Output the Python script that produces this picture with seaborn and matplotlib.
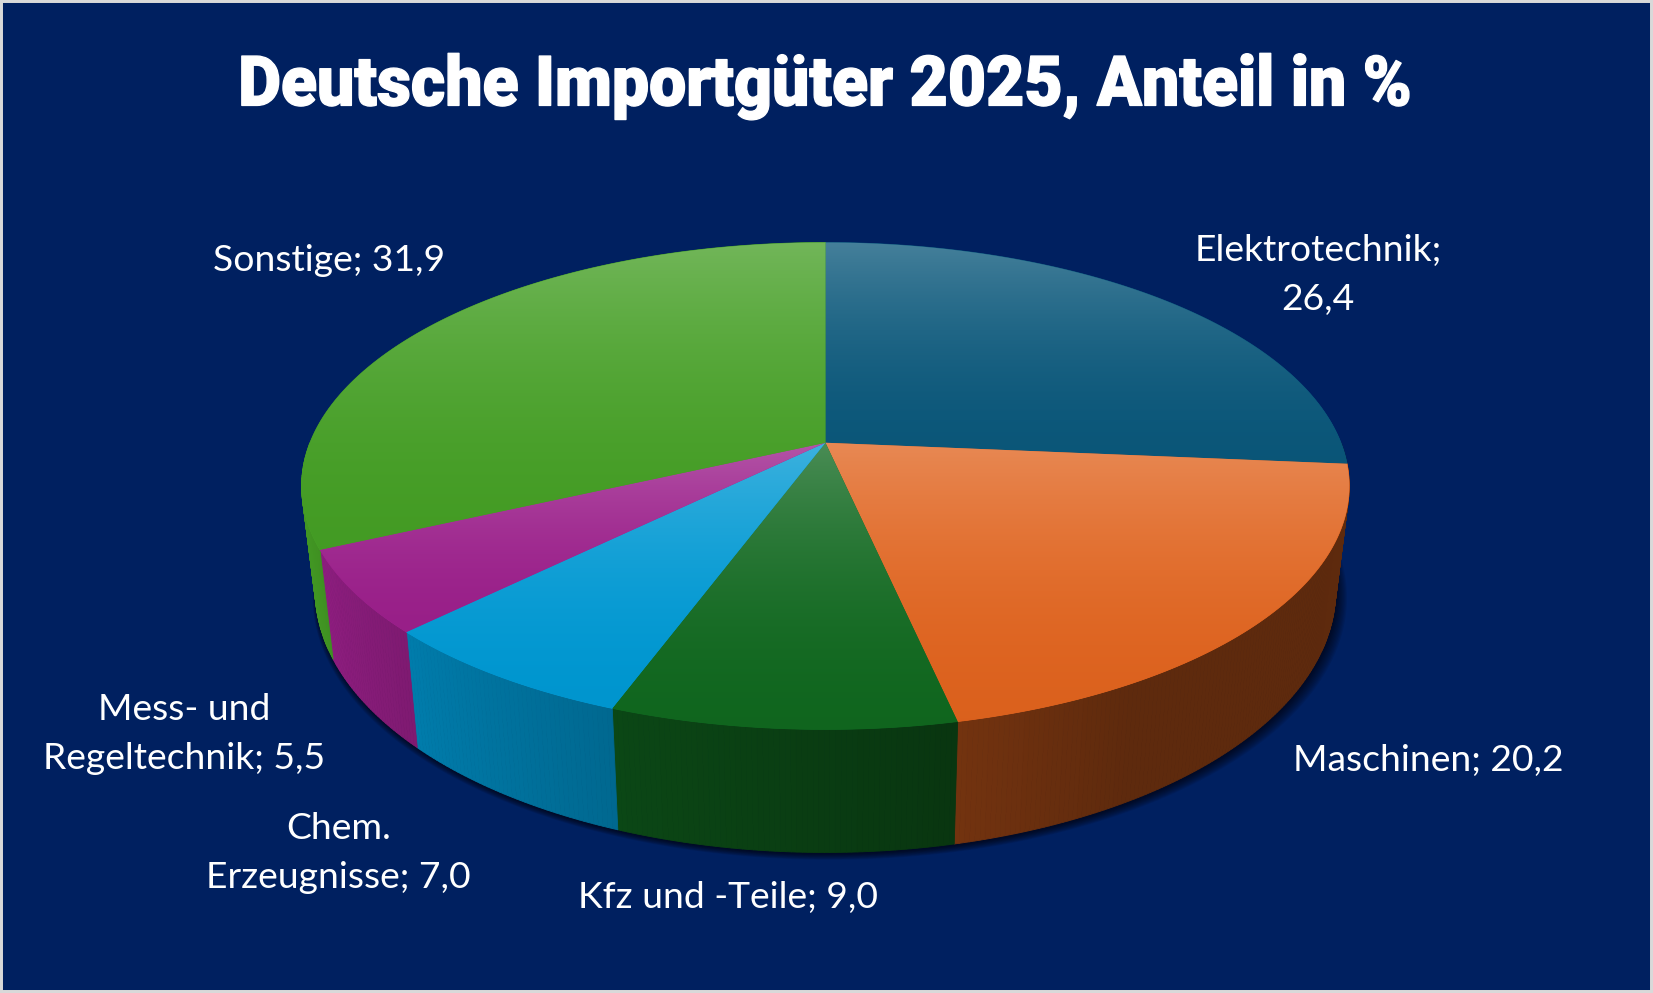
import numpy as np
import matplotlib
matplotlib.use("Agg")
import matplotlib.pyplot as plt
import seaborn as sns
from matplotlib import font_manager
from matplotlib.patches import Polygon, Rectangle
from matplotlib.collections import PolyCollection
from matplotlib.colors import to_rgb
from matplotlib.patheffects import AbstractPathEffect
from matplotlib.transforms import Affine2D

# data
categories = ["Elektrotechnik", "Maschinen", "Kfz und -Teile",
              "Chem. Erzeugnisse", "Mess- und Regeltechnik", "Sonstige"]
shares = [26.4, 20.2, 9.0, 7.0, 5.5, 31.9]
label_names = ["Elektrotechnik;\n", "Maschinen; ", "Kfz und -Teile; ",
               "Chem.\nErzeugnisse; ", "Mess- und\nRegeltechnik; ", "Sonstige; "]
title = "Deutsche Importgüter 2025, Anteil in %"

slice_colors = sns.color_palette(["#0B5A7E", "#E6661F", "#116B20",
                                  "#009DD9", "#A0218F", "#47A326"])

# layout (canvas units = 1568 x 942)
W, H_CANVAS = 1568, 942
CX, CY = 783, 420          # pie centre on screen
R, HR = 489, 223.7         # horizontal / vertical radius
P = 0.1775                 # perspective strength
DEPTH, SHRINK = 96, 0.974  # height of the cylinder, bottom shrink
label_xy = [(1250, 261), (1355, 721), (691, 851), (321, 809), (175, 696), (312, 247)]
TITLE_WIDTH = 1114         # canvas units
BG = "#002060"

sns.set_theme(style="dark", rc={"axes.facecolor": BG, "figure.facecolor": BG})
plt.rcParams["font.family"] = ["Lato", "DejaVu Sans"]

fonts = font_manager.fontManager.ttflist
roboto_black = any(f.name == "Roboto" and f.weight in (900, "black", "heavy") for f in fonts)
if roboto_black:
    title_font = dict(family=["Roboto", "DejaVu Sans"], fontweight=900)
    title_stroke = 1.0
else:
    title_font = dict(family=["DejaVu Sans"], fontweight="bold")
    title_stroke = 2.2


class Condensed(AbstractPathEffect):
    """squeeze glyphs horizontally around a fixed x (display px), slight bolding"""

    def __init__(self, sx, x0, stroke):
        super().__init__()
        self.sx, self.x0, self.stroke = sx, x0, stroke

    def draw_path(self, renderer, gc, tpath, affine, rgbFace=None):
        squeeze = Affine2D().translate(-self.x0, 0).scale(self.sx, 1).translate(self.x0, 0)
        gc0 = renderer.new_gc()
        gc0.copy_properties(gc)
        gc0.set_linewidth(self.stroke)
        gc0.set_foreground(rgbFace if rgbFace is not None else "white")
        gc0.set_joinstyle("round")
        renderer.draw_path(gc0, tpath, affine + squeeze, rgbFace)
        gc0.restore()


def top_pt(theta):
    t = np.radians(theta)
    s = 1.0 / (1.0 + P * np.sin(t))
    return CX + R * np.cos(t) * s, CY - HR * np.sin(t) * s


def bot_pt(theta):
    t = np.radians(theta)
    s = 1.0 / (1.0 + P * np.sin(t))
    x, y = top_pt(theta)
    return CX + SHRINK * (x - CX), y + DEPTH * s


def shade(theta):
    # side wall lighting, light comes from the left
    return np.clip(0.41 + 0.48 * (-theta - 60) / 95, 0.41, 0.92)


fig = plt.figure(figsize=(16.53, 9.93), dpi=100)
ax = fig.add_axes((0, 0, 1, 1))
ax.set_xlim(0, W)
ax.set_ylim(H_CANVAS, 0)
ax.axis("off")

# angles, clockwise from 12 o'clock
bounds = 90 - np.concatenate([[0], np.cumsum(shares)]) * 3.6

# soft shadow under the front wall
th_all = np.linspace(-178, -2, 200)
for i in range(10):
    bx, by = bot_pt(th_all)
    tx, ty = top_pt(th_all)
    bx = CX + (bx - CX) * (1 + 0.0015 * i) + 1 + 0.35 * i
    by = by + 1.5 + 0.6 * i
    tx = CX + (tx - CX) * 0.97
    pts = np.column_stack([np.r_[bx, tx[::-1]], np.r_[by, ty[::-1] + 40]])
    ax.add_patch(Polygon(pts, closed=True, fc="black", ec="none", alpha=0.08, zorder=1))

# side walls
quads, qcols = [], []
for k in range(len(shares)):
    a0, a1 = bounds[k], bounds[k + 1]
    lo, hi = max(a1, -180), min(a0, 0)
    if lo >= hi:
        continue
    steps = np.linspace(lo, hi, max(int((hi - lo) * 2), 2))
    base = np.array(to_rgb(slice_colors[k]))
    for t0, t1 in zip(steps[:-1], steps[1:]):
        quads.append([top_pt(t0), top_pt(t1), bot_pt(t1), bot_pt(t0)])
        qcols.append(base * shade((t0 + t1) / 2))
ax.add_collection(PolyCollection(quads, facecolors=qcols, edgecolors=qcols,
                                 linewidths=0.6, zorder=2))

# top faces with a light vertical gradient
for k in range(len(shares)):
    a0, a1 = bounds[k], bounds[k + 1]
    arc = np.linspace(a0, a1, max(int(abs(a0 - a1) * 2), 3))
    ax_, ay_ = top_pt(arc)
    px = np.r_[CX, ax_]
    py = np.r_[CY, ay_]
    poly = Polygon(np.column_stack([px, py]), closed=True, fc=slice_colors[k],
                   ec=slice_colors[k], lw=0.5, zorder=3)
    ax.add_patch(poly)
    y0, y1 = py.min(), py.max()
    t = np.linspace(0, 1, 200)[:, None]
    base = np.array(to_rgb(slice_colors[k]))[None, :]
    light = 0.26 * (1 - t) ** 2
    dark = 0.05 * t
    grad = base * (1 - light - dark) + light * 0.93
    img = np.concatenate([grad, np.ones_like(t)], axis=1)[:, None, :]
    im = ax.imshow(img, extent=(px.min() - 2, px.max() + 2, y1 + 2, y0 - 2),
                   origin="upper", aspect="auto", zorder=4, interpolation="bilinear")
    im.set_clip_path(poly)

ax.set_xlim(0, W)
ax.set_ylim(H_CANVAS, 0)

# data labels
for k, (x, y) in enumerate(label_xy):
    txt = label_names[k] + f"{shares[k]:.1f}".replace(".", ",")
    ax.text(x, y, txt, ha="center", va="center", color="white", fontsize=26.8,
            linespacing=1.6, zorder=6)

title_txt = ax.text(CX, 100, title, ha="center", va="baseline", color="white",
                    fontsize=50, zorder=6, **title_font)
renderer = fig.canvas.get_renderer()
width_px = title_txt.get_window_extent(renderer=renderer).width
target_px = TITLE_WIDTH * fig.bbox.width / W
x_center = ax.transData.transform((CX, 0))[0]
title_txt.set_path_effects([Condensed(target_px / width_px, x_center, title_stroke)])

fig.patches.append(Rectangle((0, 0), 1, 1, transform=fig.transFigure, fill=False,
                             ec="#D9D9D9", lw=4.3))

fig.savefig("out.png", dpi=100, facecolor=BG)
